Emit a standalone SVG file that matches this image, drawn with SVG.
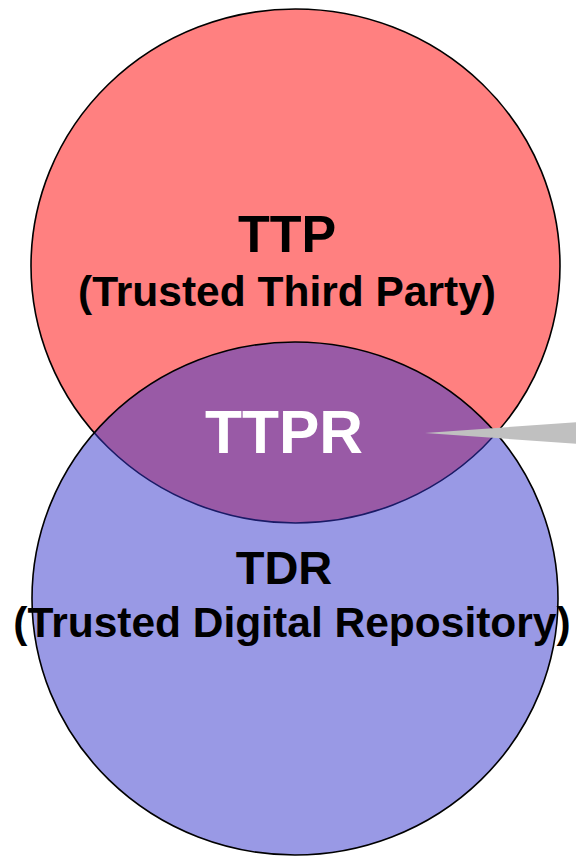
<svg xmlns="http://www.w3.org/2000/svg" width="576" height="856" viewBox="0 0 576 856">
  <style>
    .set { stroke: #000; stroke-width: 1.6; }
    .title { font-family: "Liberation Sans", Arial, sans-serif; font-weight: bold; text-anchor: middle; fill: #000; }
  </style>
  <rect x="0" y="0" width="576" height="856" fill="#fff"/>

  <!-- upper set -->
  <g id="ttp">
    <ellipse class="set" cx="295.5" cy="266" rx="264.5" ry="257" fill="#FF8080"/>
  </g>

  <!-- lower set, half-transparent so the overlap blends to purple -->
  <g id="tdr">
    <ellipse cx="295" cy="598.5" rx="263" ry="256.5" fill="#3333CC" fill-opacity="0.5" stroke="#000" stroke-width="1.6"/>
  </g>

  <!-- labels -->
  <g id="ttp-label">
    <text class="title" x="287" y="252" font-size="52">TTP</text>
    <text class="title" x="287" y="306" font-size="42.5">(Trusted Third Party)</text>
  </g>
  <g id="ttpr-label">
    <text class="title" x="284" y="453" font-size="60.5" style="fill:#fff">TTPR</text>
  </g>
  <g id="tdr-label">
    <text class="title" x="284" y="584" font-size="47">TDR</text>
    <text class="title" x="292" y="637" font-size="42.5">(Trusted Digital Repository)</text>
  </g>

  <!-- callout pointer into the overlap -->
  <g id="connectors">
    <polygon points="425,433 580,422 580,444" fill="#C0C0C0"/>
  </g>
</svg>
